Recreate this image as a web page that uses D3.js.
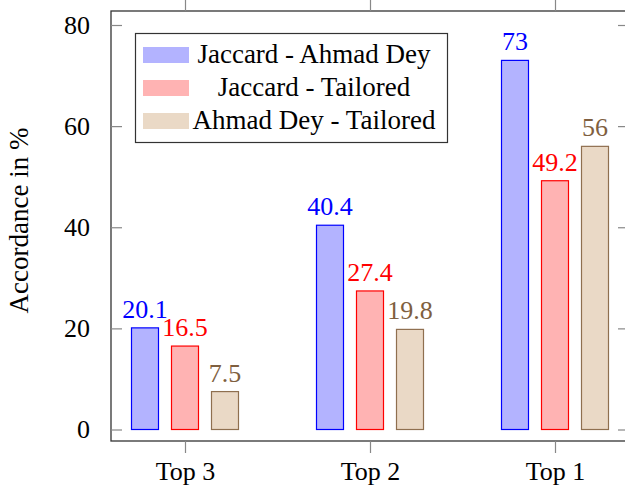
<!DOCTYPE html>
<html>
<head>
<meta charset="utf-8">
<script src="https://cdn.jsdelivr.net/npm/d3@7/dist/d3.min.js"></script>
<style>
  html, body { margin: 0; padding: 0; background: #fff; }
  svg { display: block; }
  text { font-family: "Liberation Serif", "Times New Roman", serif; }
</style>
</head>
<body>
<svg id="chart" width="625" height="489"></svg>
<script>
// Categories and series
const categories = ["Top 3", "Top 2", "Top 1"];
const seriesNames = ["Jaccard - Ahmad Dey", "Jaccard - Tailored", "Ahmad Dey - Tailored"];
const jaccardAhmadDey = [20.1, 40.4, 73];
const jaccardTailored = [16.5, 27.4, 49.2];
const ahmadDeyTailored = [7.5, 19.8, 56];
const yTicks = [0, 20, 40, 60, 80];

const seriesValues = [jaccardAhmadDey, jaccardTailored, ahmadDeyTailored];
const fills = ["#b3b3ff", "#ffb3b3", "#ead9c6"];
const strokes = ["#0000ff", "#ff0000", "#8f6f4f"];
const labelColors = ["#0000ff", "#ff0000", "#7f5f3f"];

const svg = d3.select("#chart");
const frame = { left: 111, top: 11, right: 629, bottom: 441 };
const tickLen = 11;

// Scales
const y = d3.scaleLinear().domain([0, 80]).range([429.5, 25]);
const x = d3.scalePoint().domain(categories).range([185, 555]);
const offsets = [-40, 0, 40];
const barW = 27;

// Bars with value labels
seriesValues.forEach((vals, s) => {
  const g = svg.append("g");
  g.selectAll("rect").data(vals).join("rect")
    .attr("x", (d, i) => x(categories[i]) + offsets[s] - barW / 2)
    .attr("y", d => y(d))
    .attr("width", barW)
    .attr("height", d => y(0) - y(d))
    .attr("fill", fills[s])
    .attr("stroke", strokes[s])
    .attr("stroke-width", 1.2);
  g.selectAll("text").data(vals).join("text")
    .attr("x", (d, i) => x(categories[i]) + offsets[s])
    .attr("y", d => y(d) - 10)
    .attr("text-anchor", "middle")
    .attr("font-size", 26)
    .attr("fill", labelColors[s])
    .text(d => d);
});

// Axis frame
const axisColor = "#333";
const tickColor = "#888";
svg.append("rect")
  .attr("x", frame.left).attr("y", frame.top)
  .attr("width", frame.right - frame.left)
  .attr("height", frame.bottom - frame.top)
  .attr("fill", "none").attr("stroke", axisColor).attr("stroke-width", 1.3);

// Y axis: ticks inside on both sides
const yAxisL = d3.axisLeft(y).tickValues(yTicks).tickSize(-tickLen).tickPadding(tickLen + 10);
const gyl = svg.append("g").attr("transform", `translate(${frame.left},0)`).call(yAxisL);
gyl.select(".domain").remove();
gyl.selectAll("line").attr("stroke", tickColor).attr("stroke-width", 1.2);
gyl.selectAll("text").attr("font-size", 26).attr("fill", "#000");

const yAxisR = d3.axisRight(y).tickValues(yTicks).tickSize(-tickLen).tickFormat("");
const gyr = svg.append("g").attr("transform", `translate(${frame.right},0)`).call(yAxisR);
gyr.select(".domain").remove();
gyr.selectAll("line").attr("stroke", tickColor).attr("stroke-width", 1.2);

// X axis: ticks outside on both sides
const xAxisB = d3.axisBottom(x).tickSize(tickLen + 1).tickPadding(9);
const gxb = svg.append("g").attr("transform", `translate(0,${frame.bottom})`).call(xAxisB);
gxb.select(".domain").remove();
gxb.selectAll("line").attr("stroke", tickColor).attr("stroke-width", 1.2);
gxb.selectAll("text").attr("font-size", 26).attr("fill", "#000");

const xAxisT = d3.axisTop(x).tickSize(tickLen + 1).tickFormat("");
const gxt = svg.append("g").attr("transform", `translate(0,${frame.top})`).call(xAxisT);
gxt.select(".domain").remove();
gxt.selectAll("line").attr("stroke", tickColor).attr("stroke-width", 1.2);

// Y axis title
svg.append("text")
  .attr("transform", "translate(28,220.5) rotate(-90)")
  .attr("text-anchor", "middle")
  .attr("font-size", 27)
  .text("Accordance in %");

// Legend
const legend = svg.append("g");
legend.append("rect")
  .attr("x", 135.5).attr("y", 33.5).attr("width", 312).attr("height", 109)
  .attr("fill", "#fff").attr("stroke", axisColor).attr("stroke-width", 1.2);
const rows = legend.selectAll("g.row").data(seriesNames).join("g")
  .attr("class", "row")
  .attr("transform", (d, i) => `translate(0,${55 + i * 33})`);
rows.append("rect")
  .attr("x", 143).attr("y", -8).attr("width", 46).attr("height", 16)
  .attr("fill", (d, i) => fills[i]);
rows.append("text")
  .attr("x", 314).attr("y", 8)
  .attr("text-anchor", "middle")
  .attr("font-size", 27)
  .text(d => d);
</script>
</body>
</html>
